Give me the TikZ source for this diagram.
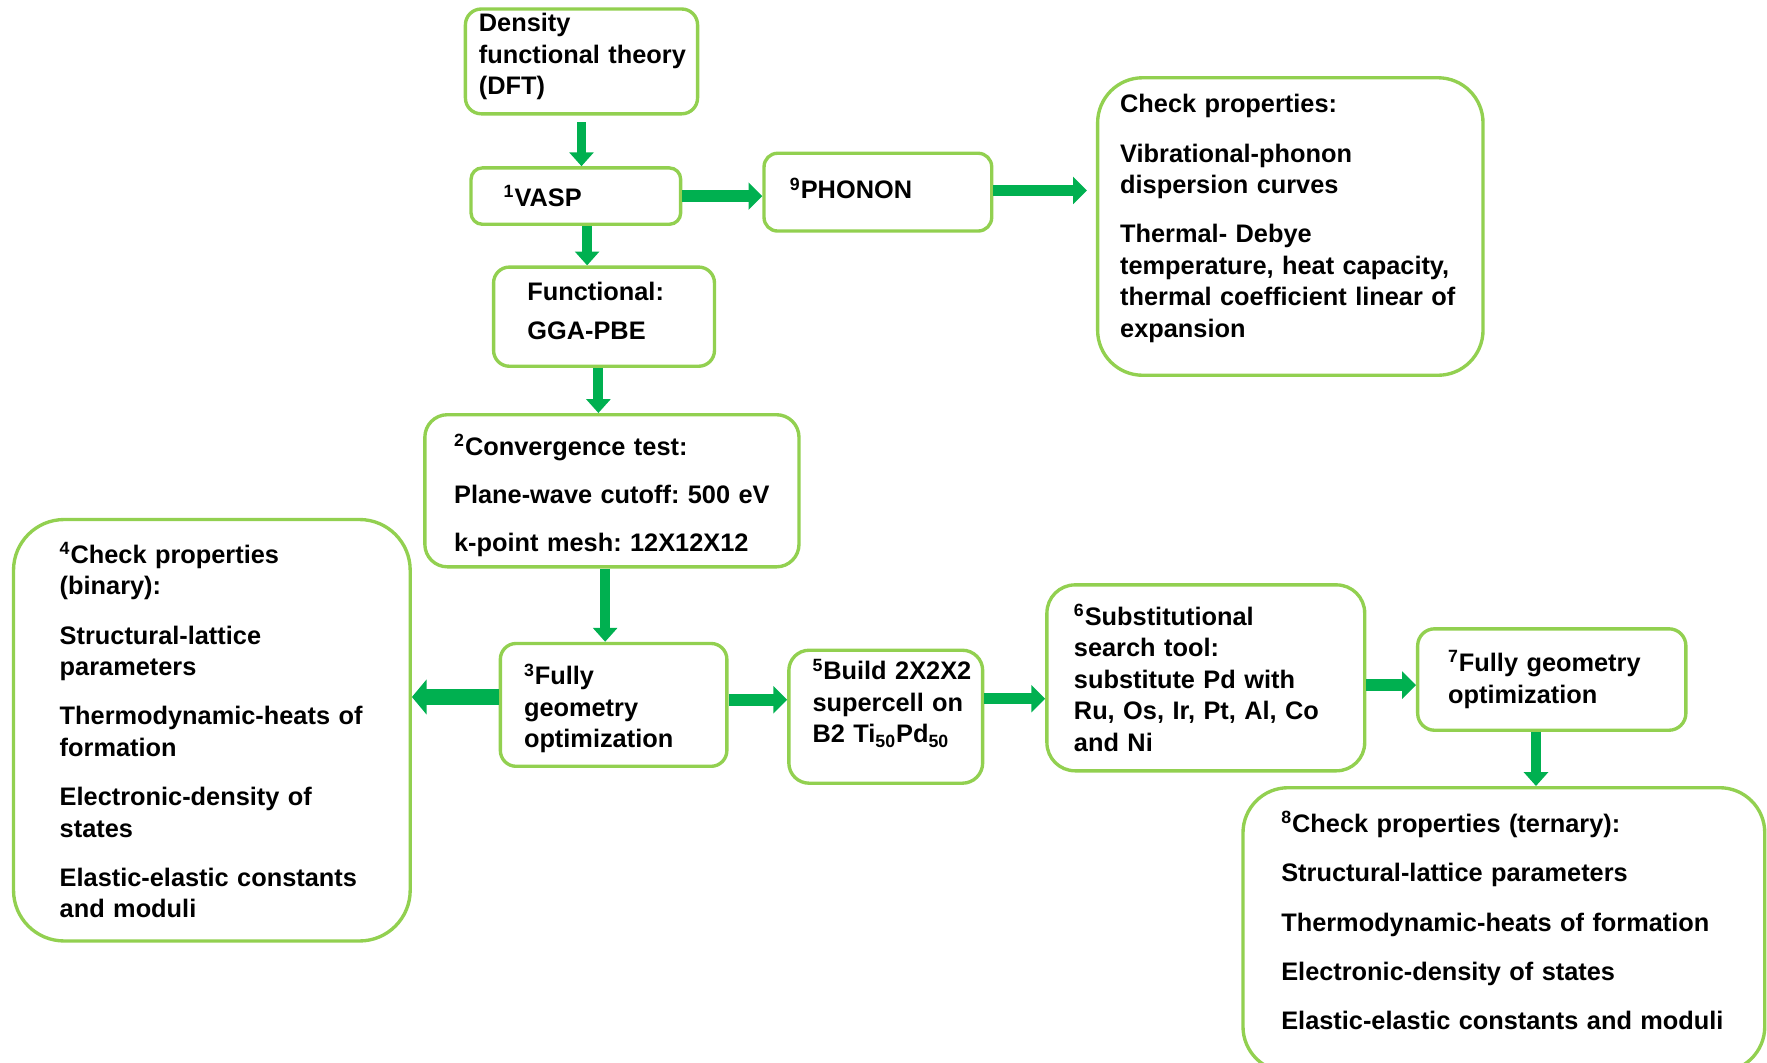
\documentclass[tikz,border=0pt]{standalone}
\usepackage{fontspec}
\setmainfont{Liberation Sans}
\usetikzlibrary{arrows.meta}
\definecolor{boxgreen}{HTML}{92D050}
\definecolor{arrowgreen}{HTML}{00B050}
\frenchspacing
\tikzset{
  flow box/.style n args={4}{
    draw=boxgreen,
    line width=1.7pt,
    rounded corners={#4*0.02cm},
    minimum width={#1*0.02cm},
    minimum height={#2*0.02cm},
    text width={(#1-2*#3)*0.02cm},
    inner xsep={#3*0.02cm},
    inner ysep=0pt,
    align=left,
    font=\bfseries\fontsize{12.8}{15.9}\selectfont,
  },
  flow/.style={
    draw=arrowgreen,
    line width=5pt,
    -{Triangle[width=12pt,length=7pt]},
  },
  side flow/.style={
    flow,
    line width=5.8pt,
    -{Triangle[width=13.5pt,length=7pt]},
  },
  big flow/.style={
    flow,
    line width=8.5pt,
    -{Triangle[width=17.5pt,length=7.5pt]},
  }
}

\begin{document}
\begin{tikzpicture}[x=0.02cm, y=-0.02cm]
        \useasboundingbox (0,0) rectangle (1568,943);

        \node [flow box={206}{93}{12}{14}] (dft) at (516,54.5)
          {Density\\\mbox{functional theory}\\(DFT)\\[-8.6pt]\mbox{}};
        \node [flow box={186}{50}{29}{10}] (vasp) at (511,174)
          {\textsuperscript{1}VASP};
        \node [flow box={202}{69}{23}{12}] (phonon) at (779,170.5)
          {\textsuperscript{9}PHONON\\[-12pt]\mbox{}};
        \node [flow box={342}{264}{20}{40}] (checkvib) at (1145,201)
          {Check properties:\\[9pt]
           Vibrational-phonon\\dispersion curves\\[9pt]
           Thermal- Debye\\\mbox{temperature, heat capacity,}\\\mbox{thermal coefficient linear of}\\expansion\\[-5.2pt]\mbox{}};
        \node [flow box={196}{88}{30}{14}] (func) at (536,281)
          {Functional:\\[4pt]GGA-PBE\\[-10.2pt]\mbox{}};
        \node [flow box={332}{135}{26}{20}] (conv) at (543,435.5)
          {\mbox{}\\[-0.7pt]\textsuperscript{2}Convergence test:\\[8.3pt]
           \mbox{Plane-wave cutoff: 500 eV}\\[8.3pt]
           k-point mesh: 12X12X12};
        \node [flow box={352}{374}{41}{45}] (checkbin) at (188,648)
          {\textsuperscript{4}Check properties\\(binary):\\[9pt]
           Structural-lattice\\parameters\\[9pt]
           \mbox{Thermodynamic-heats of}\\formation\\[9pt]
           Electronic-density of\\states\\[9pt]
           \mbox{Elastic-elastic constants}\\and moduli};
        \node [flow box={201}{109}{21}{14}] (opt3) at (544.5,625.5)
          {\mbox{}\\[-1.8pt]\textsuperscript{3}Fully\\geometry\\optimization};
        \node [flow box={172}{118}{21}{18}] (build) at (786,636)
          {\mbox{\textsuperscript{5}Build 2X2X2}\\\mbox{supercell on}\\B2 Ti\textsubscript{50}Pd\textsubscript{50}\\\mbox{}};
        \node [flow box={282}{165}{24}{25}] (subst) at (1070,601.5)
          {\textsuperscript{6}Substitutional\\search tool:\\substitute Pd with\\Ru, Os, Ir, Pt, Al, Co\\and Ni};
        \node [flow box={238}{90}{27}{15}] (opt7) at (1377,603)
          {\textsuperscript{7}Fully geometry\\optimization};
        \node [flow box={463}{252}{34}{40}] (checkter) at (1334.5,825)
          {\textsuperscript{8}Check properties (ternary):\\[9pt]
           Structural-lattice parameters\\[9pt]
           Thermodynamic-heats of formation\\[9pt]
           Electronic-density of states\\[9pt]
           Elastic-elastic constants and moduli\\[-6.8pt]\mbox{}};

        \draw [flow] ([yshift=-0.12cm]dft.south) -- (dft.south |- vasp.north);
        \draw [side flow] (vasp.east) -- (vasp.east -| phonon.west);
        \draw [side flow] ([yshift=0.03cm]phonon.east) -- ([yshift=0.03cm,xshift=-0.16cm]phonon.east -| checkvib.west);
        \draw [flow] ([xshift=0.2cm]vasp.south) -- ([xshift=0.2cm]vasp.south |- func.north);
        \draw [flow] ([xshift=-0.1cm]func.south) -- ([xshift=-0.1cm]func.south |- conv.north);
        \draw [flow] ([xshift=-0.12cm]conv.south) -- ([xshift=-0.12cm]conv.south |- opt3.north);
        \draw [big flow] ([yshift=0.14cm]opt3.west) -- ([yshift=0.14cm]opt3.west -| checkbin.east);
        \draw [side flow] ([yshift=0.09cm]opt3.east) -- ([yshift=0.09cm]opt3.east -| build.west);
        \draw [side flow] ([yshift=0.32cm]build.east) -- ([yshift=0.32cm]build.east -| subst.west);
        \draw [side flow] ([yshift=-0.13cm]subst.east) -- ([yshift=-0.13cm]subst.east -| opt7.west);
        \draw [flow] ([xshift=-0.28cm]opt7.south) -- ([xshift=-0.28cm]opt7.south |- checkter.north);
    \end{tikzpicture}
\end{document}
